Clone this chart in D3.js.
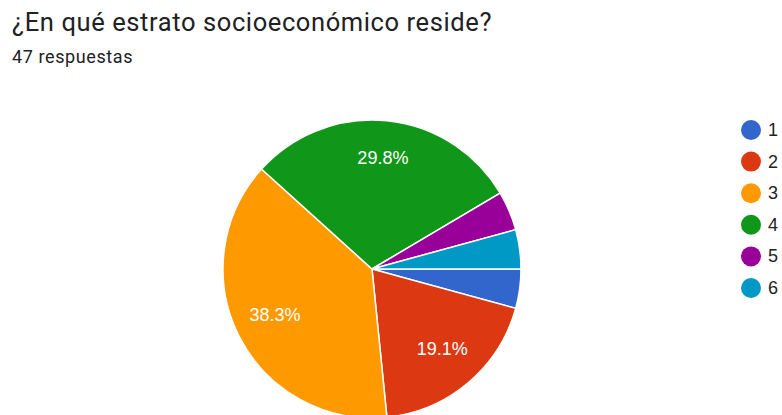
<!DOCTYPE html>
<html>
<head>
<meta charset="utf-8">
<script src="https://cdn.jsdelivr.net/npm/d3@7"></script>
<style>
  html, body { margin: 0; padding: 0; background: #fff; }
  svg { display: block; }
</style>
</head>
<body>
<svg id="chart" width="782" height="415"></svg>
<script>
// Respuestas por estrato socioeconómico
const categories = ["1", "2", "3", "4", "5", "6"];
const counts = [2, 9, 18, 14, 2, 2];
const colors = ["#3366cc", "#dc3912", "#ff9900", "#109618", "#990099", "#0099c6"];
const title = "¿En qué estrato socioeconómico reside?";
const subtitle = "47 respuestas";

const svg = d3.select("#chart");

svg.append("text")
  .attr("x", 12).attr("y", 31)
  .attr("font-family", "Roboto, 'Noto Sans', sans-serif")
  .attr("font-size", 25.5)
  .attr("letter-spacing", 0.6)
  .attr("fill", "#202124")
  .text(title);

svg.append("text")
  .attr("x", 12).attr("y", 63)
  .attr("font-family", "Roboto, 'Noto Sans', sans-serif")
  .attr("font-size", 18)
  .attr("letter-spacing", 0.6)
  .attr("fill", "#202124")
  .text(subtitle);

const total = d3.sum(counts);
const cx = 372, cy = 269, r = 149;

// Slices begin at 3 o'clock and run clockwise
const pie = d3.pie().sort(null).value(d => d)
  .startAngle(Math.PI / 2).endAngle(Math.PI / 2 + 2 * Math.PI);
const arcs = pie(counts);
const arc = d3.arc().innerRadius(0).outerRadius(r);
const labelArc = d3.arc().innerRadius(r * 0.73).outerRadius(r * 0.73);

const g = svg.append("g").attr("transform", `translate(${cx},${cy})`);

g.selectAll("path")
  .data(arcs)
  .join("path")
  .attr("d", arc)
  .attr("fill", (d, i) => colors[i])
  .attr("stroke", "#fff")
  .attr("stroke-width", 1.5);

const fmt = d3.format(".1%");
g.selectAll("text.lbl")
  .data(arcs.filter(d => d.value / total > 0.1))
  .join("text")
  .attr("class", "lbl")
  .attr("transform", d => {
    const [x, y] = labelArc.centroid(d);
    return `translate(${x},${y - 3})`;
  })
  .attr("text-anchor", "middle")
  .attr("dominant-baseline", "central")
  .attr("font-family", "Arial, 'Liberation Sans', sans-serif")
  .attr("font-size", 18)
  .attr("fill", "#fff")
  .text(d => fmt(d.value / total));

// Legend
const legendY = d3.scalePoint().domain(categories).range([130, 288]);
const legend = svg.append("g");
const items = legend.selectAll("g")
  .data(categories)
  .join("g")
  .attr("transform", d => `translate(751,${legendY(d)})`);
items.append("circle")
  .attr("r", 10)
  .attr("fill", (d, i) => colors[i]);
items.append("text")
  .attr("x", 17)
  .attr("dominant-baseline", "central")
  .attr("font-family", "Arial, 'Liberation Sans', sans-serif")
  .attr("font-size", 18)
  .attr("fill", "#222")
  .text(d => d);
</script>
</body>
</html>
